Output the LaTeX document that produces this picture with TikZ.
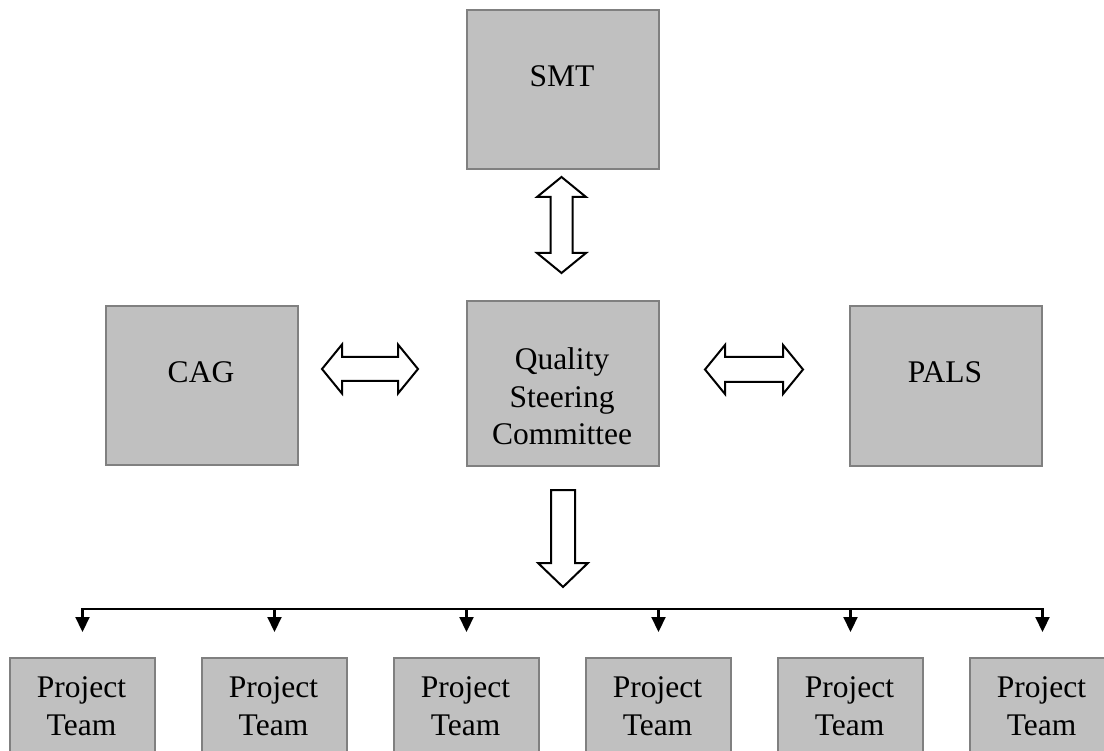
\documentclass[tikz,border=0pt]{standalone}
\usepackage{fontspec}
\setmainfont{Liberation Serif}
\usetikzlibrary{arrows.meta,calc}
\definecolor{boxfill}{HTML}{C0C0C0}
\definecolor{boxborder}{HTML}{808080}
\tikzset{
  box/.style={draw=boxborder, line width=2pt, fill=boxfill, inner sep=0pt, anchor=north west},
  lbl/.style={font=\fontsize{31.5}{37.5}\selectfont, anchor=base, inner sep=0pt, text=black},
  blockarrow/.style={draw=black, line width=2pt, fill=white, line join=miter},
  conn/.style={draw=black, line width=2.2pt},
  pics/dblarrow/.style args={#1/#2/#3/#4}{code={%
    \draw[blockarrow] (-#1,0) -- (-#1+#4,#2) -- (-#1+#4,#3) -- (#1-#4,#3) -- (#1-#4,#2)
      -- (#1,0) -- (#1-#4,-#2) -- (#1-#4,-#3) -- (-#1+#4,-#3) -- (-#1+#4,-#2) -- cycle;
  }},
}
\begin{document}
\begin{tikzpicture}[x=1pt,y=-1pt]
\useasboundingbox (0,0) rectangle (1104,751);
\clip (0,0) rectangle (1104,751);
\fill[white] (0,0) rectangle (1104,751);

% boxes
\node[box, minimum width=192pt, minimum height=159pt] (smt) at (466,9) {};
\node[box, minimum width=192pt, minimum height=165pt] (qsc) at (466,300) {};
\node[box, minimum width=192pt, minimum height=159pt] (cag) at (105,305) {};
\node[box, minimum width=192pt, minimum height=160pt] (pals) at (849,305) {};

% texts
\node[lbl] (smtt) at (562,87) {SMT};
\node[lbl] (cagt) at (201,383) {CAG};
\node[lbl] (palst) at (945,383) {PALS};
\node[lbl] (qsct1) at (562,370) {Quality};
\node[lbl] (qsct2) at (562,408) {Steering};
\node[lbl] (qsct3) at (562,445) {Committee};

% block arrows
\pic at (561.5,225) [rotate=90] {dblarrow={48/24.5/11/20}};
\pic at (370,369) {dblarrow={48/24.5/12/20}};
\pic at (754,369.5) {dblarrow={49/24.5/12.5/20}};
\coordinate (dtop) at ($(qsc.south)+(0,23)$);
\coordinate (dtip) at ($(qsc.south)+(0,120)$);
\draw[blockarrow] ($(dtop)+(-12,0)$) -- ($(dtop)+(12,0)$) -- ($(dtip)+(12,-24)$) -- ($(dtip)+(25,-24)$)
  -- (dtip) -- ($(dtip)+(-25,-24)$) -- ($(dtip)+(-12,-24)$) -- cycle;

% project team boxes
\foreach \k in {0,...,5}{
  \node[box, minimum width=145pt, minimum height=150pt] (pt\k) at ({9+192*\k},657) {};
  \node[lbl] (ptt\k a) at ({81.5+192*\k},697) {Project};
  \node[lbl] (ptt\k b) at ({81.5+192*\k},735) {Team};
}

% bus connector
\coordinate (bus) at (0,609);
\draw[conn, line cap=rect] (bus -| pt0.north) -- (bus -| pt5.north);
\foreach \k in {0,...,5}{
  \draw[conn, -{Triangle[width=14pt,length=15pt]}] (bus -| pt\k.north) -- ([yshift=25pt]pt\k.north);
}
\end{tikzpicture}
\end{document}
